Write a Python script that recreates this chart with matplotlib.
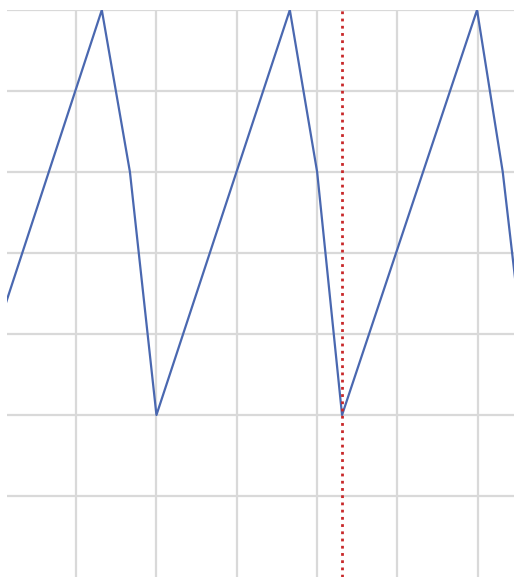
import matplotlib.pyplot as plt

# Sagezahn-Signal: Eckpunkte (Zeit in Rastereinheiten, Pegel)
t_points = [-0.33, 1.32, 1.67, 2.00, 3.66, 4.00, 4.31, 5.99, 6.31, 6.66]
v_points = [1, 6, 4, 1, 6, 4, 1, 6, 4, 1]

# Markierung (rote gepunktete Linie)
marker_t = 4.31

x_ticks = [1, 2, 3, 4, 5, 6]
y_ticks = [0, 1, 2, 3, 4, 5, 6]

if __name__ == '__main__':
    fig = plt.figure(figsize=(5.14, 5.77), dpi=100)
    ax = fig.add_axes([7 / 514, 0, 1 - 7 / 514, 567 / 577])

    ax.plot(t_points, v_points, color='#4a68b0', lw=1.6, zorder=3)
    ax.axvline(marker_t, color='#c8282a', lw=2, ls=(0, (1, 1.6)), zorder=4)

    ax.set_xlim(0.14, 6.45)
    ax.set_ylim(-1, 6)
    ax.set_xticks(x_ticks)
    ax.set_yticks(y_ticks)
    ax.grid(True, color='#d9d9d9', lw=1.6)
    ax.tick_params(length=0, labelbottom=False, labelleft=False)
    for s in ax.spines.values():
        s.set_visible(False)

    fig.savefig('out.png', dpi=100)
